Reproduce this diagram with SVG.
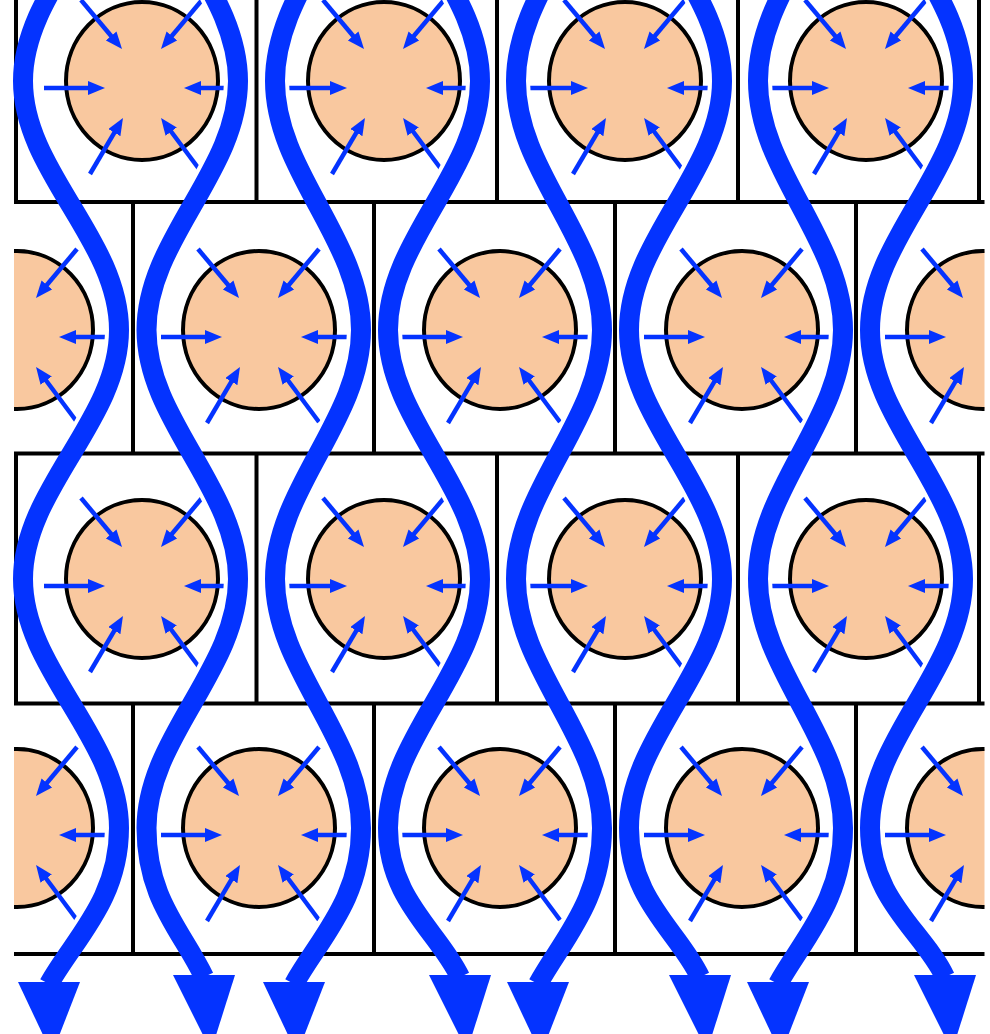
<svg xmlns="http://www.w3.org/2000/svg" xmlns:xlink="http://www.w3.org/1999/xlink" width="990" height="1034" viewBox="0 0 990 1034">
<style>
.grid line{stroke:#000;stroke-width:4;fill:none}
.halo{fill:none;stroke:#fff;stroke-width:28}
.flow{fill:none;stroke:#0433FF;stroke-width:20}
.head{fill:#0433FF}
</style>
<defs>
<marker id="ah" markerUnits="userSpaceOnUse" markerWidth="17" markerHeight="14" viewBox="0 0 17 14" refX="7" refY="7" orient="auto"><path d="M0,0 L17,7 L0,14 z" fill="#0433FF"/></marker>
<clipPath id="clip"><rect x="14" y="0" width="970.5" height="1034"/></clipPath>
<g id="unit">
<ellipse cx="0" cy="0" rx="76" ry="79" fill="#F9C89F" stroke="#000" stroke-width="4"/>
<g stroke="#0433FF" stroke-width="4.5" marker-end="url(#ah)">
<line x1="-61" y1="-81" x2="-26.4" y2="-39.7"/>
<line x1="60" y1="-81" x2="25.4" y2="-39.7"/>
<line x1="-98" y1="7" x2="-47" y2="7"/>
<line x1="100" y1="7" x2="52" y2="7"/>
<line x1="-52" y1="93" x2="-24.1" y2="45.6"/>
<line x1="60" y1="92" x2="25" y2="45"/>
</g>
</g>
<path id="w1" d="M119,-168 C119,-77.5 23,-9.5 23,81 C23,171.5 119,239.5 119,330 C119,420.5 23,488.5 23,579 C23,669.5 119,737.5 119,828 C119,900 74,939 49,984"/>
<path id="w2" d="M146.5,-168 C146.5,-77.5 238,-9.5 238,81 C238,171.5 146.5,239.5 146.5,330 C146.5,420.5 238,488.5 238,579 C238,669.5 146.5,737.5 146.5,828 C146.5,900 183,932 204,977"/>
<path id="w3" d="M361,-168 C361,-77.5 275,-9.5 275,81 C275,171.5 361,239.5 361,330 C361,420.5 275,488.5 275,579 C275,669.5 361,737.5 361,828 C361,900 319,939 294,984"/>
<path id="w4" d="M388,-168 C388,-77.5 480,-9.5 480,81 C480,171.5 388,239.5 388,330 C388,420.5 480,488.5 480,579 C480,669.5 388,737.5 388,828 C388,900 439,932 460,977"/>
<path id="w5" d="M602,-168 C602,-77.5 516,-9.5 516,81 C516,171.5 602,239.5 602,330 C602,420.5 516,488.5 516,579 C516,669.5 602,737.5 602,828 C602,900 563,939 538,984"/>
<path id="w6" d="M629,-168 C629,-77.5 722,-9.5 722,81 C722,171.5 629,239.5 629,330 C629,420.5 722,488.5 722,579 C722,669.5 629,737.5 629,828 C629,900 679,932 700,977"/>
<path id="w7" d="M843,-168 C843,-77.5 758,-9.5 758,81 C758,171.5 843,239.5 843,330 C843,420.5 758,488.5 758,579 C758,669.5 843,737.5 843,828 C843,900 803,939 778,984"/>
<path id="w8" d="M870,-168 C870,-77.5 963,-9.5 963,81 C963,171.5 870,239.5 870,330 C870,420.5 963,488.5 963,579 C963,669.5 870,737.5 870,828 C870,900 924,932 945,977"/>
</defs>
<rect width="990" height="1034" fill="#fff"/>
<g id="cells" clip-path="url(#clip)">
<g id="r1c1"><use xlink:href="#unit" x="142" y="81"/></g>
<g id="r1c2"><use xlink:href="#unit" x="384" y="81"/></g>
<g id="r1c3"><use xlink:href="#unit" x="625" y="81"/></g>
<g id="r1c4"><use xlink:href="#unit" x="866" y="81"/></g>
<g id="r2c0"><use xlink:href="#unit" x="17" y="330"/></g>
<g id="r2c1"><use xlink:href="#unit" x="259" y="330"/></g>
<g id="r2c2"><use xlink:href="#unit" x="500" y="330"/></g>
<g id="r2c3"><use xlink:href="#unit" x="742" y="330"/></g>
<g id="r2c4"><use xlink:href="#unit" x="983" y="330"/></g>
<g id="r3c1"><use xlink:href="#unit" x="142" y="579"/></g>
<g id="r3c2"><use xlink:href="#unit" x="384" y="579"/></g>
<g id="r3c3"><use xlink:href="#unit" x="625" y="579"/></g>
<g id="r3c4"><use xlink:href="#unit" x="866" y="579"/></g>
<g id="r4c0"><use xlink:href="#unit" x="17" y="828"/></g>
<g id="r4c1"><use xlink:href="#unit" x="259" y="828"/></g>
<g id="r4c2"><use xlink:href="#unit" x="500" y="828"/></g>
<g id="r4c3"><use xlink:href="#unit" x="742" y="828"/></g>
<g id="r4c4"><use xlink:href="#unit" x="983" y="828"/></g>
</g>
<g id="halos" class="halo">
<use xlink:href="#w1"/><use xlink:href="#w2"/><use xlink:href="#w3"/><use xlink:href="#w4"/>
<use xlink:href="#w5"/><use xlink:href="#w6"/><use xlink:href="#w7"/><use xlink:href="#w8"/>
</g>
<g id="grid" class="grid" clip-path="url(#clip)">
<line x1="14" y1="202" x2="985" y2="202"/>
<line x1="14" y1="453.5" x2="985" y2="453.5"/>
<line x1="14" y1="703.5" x2="985" y2="703.5"/>
<line x1="14" y1="954" x2="985" y2="954"/>
<line x1="16" y1="0" x2="16" y2="202"/>
<line x1="256.5" y1="0" x2="256.5" y2="202"/>
<line x1="497" y1="0" x2="497" y2="202"/>
<line x1="738" y1="0" x2="738" y2="202"/>
<line x1="979" y1="0" x2="979" y2="202"/>
<line x1="16" y1="453.5" x2="16" y2="703.5"/>
<line x1="256.5" y1="453.5" x2="256.5" y2="703.5"/>
<line x1="497" y1="453.5" x2="497" y2="703.5"/>
<line x1="738" y1="453.5" x2="738" y2="703.5"/>
<line x1="979" y1="453.5" x2="979" y2="703.5"/>
<line x1="133" y1="202" x2="133" y2="453.5"/>
<line x1="374" y1="202" x2="374" y2="453.5"/>
<line x1="615" y1="202" x2="615" y2="453.5"/>
<line x1="856" y1="202" x2="856" y2="453.5"/>
<line x1="133" y1="703.5" x2="133" y2="954"/>
<line x1="374" y1="703.5" x2="374" y2="954"/>
<line x1="615" y1="703.5" x2="615" y2="954"/>
<line x1="856" y1="703.5" x2="856" y2="954"/>
</g>
<g id="connectors">
<g class="flow">
<use xlink:href="#w1"/><use xlink:href="#w2"/><use xlink:href="#w3"/><use xlink:href="#w4"/>
<use xlink:href="#w5"/><use xlink:href="#w6"/><use xlink:href="#w7"/><use xlink:href="#w8"/>
</g>
<polygon class="head" points="18,982 80,982 52,1054"/>
<polygon class="head" points="173,975 235,975 211,1051"/>
<polygon class="head" points="263,982 325,982 297,1054"/>
<polygon class="head" points="429,975 491,975 467,1051"/>
<polygon class="head" points="507,982 569,982 541,1054"/>
<polygon class="head" points="669,975 731,975 707,1051"/>
<polygon class="head" points="747,982 809,982 781,1054"/>
<polygon class="head" points="914,975 976,975 952,1051"/>
</g>
</svg>
